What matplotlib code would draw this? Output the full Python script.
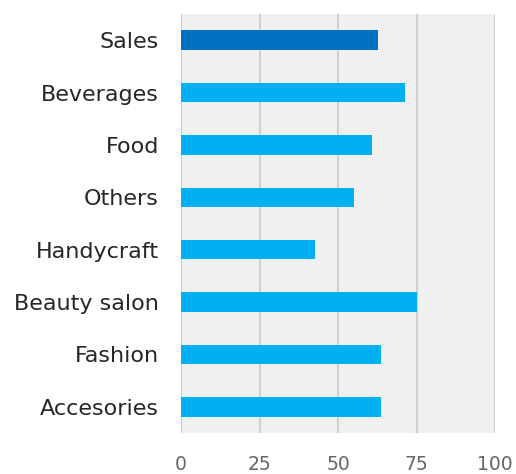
import matplotlib
matplotlib.use("Agg")
import matplotlib.pyplot as plt

# categories from top to bottom
categories = ["Sales", "Beverages", "Food", "Others", "Handycraft",
              "Beauty salon", "Fashion", "Accesories"]
values = [62.6, 71.2, 60.9, 55.2, 42.8, 75.3, 63.6, 63.6]
colors = ["#0070C0"] + ["#00B0F0"] * 7
xticks = [0, 25, 50, 75, 100]

fig = plt.figure(figsize=(5.16, 4.74), dpi=100)
ax = fig.add_axes([181 / 516, 1 - 433 / 474, (495 - 181) / 516, (433 - 14) / 474])
ax.set_facecolor("#f0f0f0")

pos = list(range(len(categories)))
ax.barh(pos, values, height=0.37, color=colors, zorder=3)

ax.set_ylim(len(categories) - 0.5, -0.5)
ax.set_xlim(0, 100)
ax.set_xticks(xticks)
ax.set_yticks(pos)
ax.set_yticklabels(categories, fontsize=16, color="#262626")
ax.tick_params(axis="x", labelsize=13.5, labelcolor="#666666", length=0, pad=16)
ax.tick_params(axis="y", length=0, pad=16)

ax.grid(axis="x", color="#d0d0d0", linewidth=1.5, zorder=1)
for s in ax.spines.values():
    s.set_visible(False)

fig.savefig("out.png", dpi=100)
